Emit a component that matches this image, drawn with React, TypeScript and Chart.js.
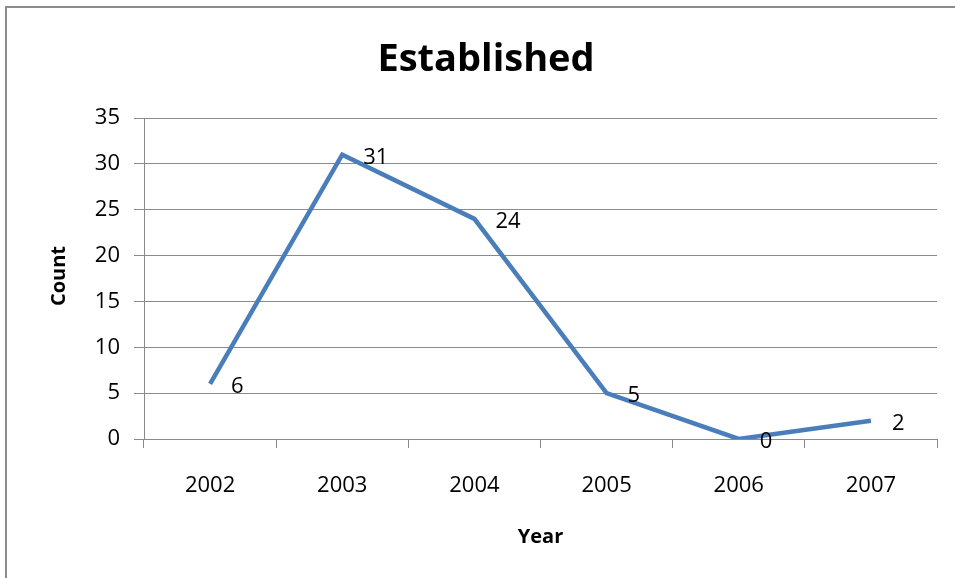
import React, { useEffect, useRef } from "react";
import { Chart, registerables } from "chart.js";

Chart.register(...registerables);

const years = ["2002", "2003", "2004", "2005", "2006", "2007"];
const counts = [6, 31, 24, 5, 0, 2];
const chartTitle = "Established";
const xTitle = "Year";
const yTitle = "Count";

const FONT = "'Open Sans', 'Noto Sans', sans-serif";
const GRID = "#8a8a8a";
const LINE = "#4a7ebb";

const textPlugin = {
  id: "textPlugin",
  afterDatasetsDraw(chart: any) {
    const ctx = chart.ctx;
    const meta = chart.getDatasetMeta(0);
    ctx.save();
    ctx.fillStyle = "#000";
    ctx.font = `22px ${FONT}`;
    ctx.textAlign = "left";
    ctx.textBaseline = "middle";
    meta.data.forEach((pt: any, i: number) => {
      ctx.fillText(String(counts[i]), pt.x + 21, pt.y + 3);
    });
    const area = chart.chartArea;
    ctx.textBaseline = "alphabetic";
    ctx.textAlign = "center";
    ctx.font = `bold 38px ${FONT}`;
    ctx.fillText(chartTitle, 486, 71);
    ctx.font = `bold 20px ${FONT}`;
    ctx.fillText(xTitle, (area.left + area.right) / 2, 543);
    ctx.translate(65, 276);
    ctx.rotate(-Math.PI / 2);
    ctx.fillText(yTitle, 0, 0);
    ctx.restore();
  },
};

export default function App() {
  const ref = useRef<HTMLCanvasElement>(null);
  useEffect(() => {
    if (!ref.current) return;
    const chart = new Chart(ref.current, {
      type: "line",
      data: {
        labels: years,
        datasets: [
          {
            data: counts,
            borderColor: LINE,
            backgroundColor: LINE,
            borderWidth: 4.5,
            pointRadius: 0,
            tension: 0,
            borderJoinStyle: "miter",
            borderCapStyle: "butt",
          },
        ],
      },
      options: {
        animation: false,
        responsive: false,
        events: [],
        layout: { padding: { left: 0, top: 118, right: 18, bottom: 0 } },
        plugins: {
          legend: { display: false },
          title: { display: false },
          tooltip: { enabled: false },
        },
        scales: {
          x: {
            type: "category",
            offset: true,
            grid: {
              offset: true,
              drawOnChartArea: false,
              drawTicks: true,
              tickLength: 9,
              color: GRID,
            },
            border: { display: true, color: GRID, width: 1 },
            ticks: {
              color: "#000",
              font: { family: FONT, size: 22 },
              padding: 25,
              maxRotation: 0,
            },
            afterFit: (s: any) => {
              s.height = 139;
            },
          },
          y: {
            min: 0,
            max: 35,
            ticks: {
              stepSize: 5,
              color: "#000",
              font: { family: FONT, size: 22 },
              padding: 14,
            },
            grid: { color: GRID, tickLength: 10, drawTicks: true },
            border: { display: true, color: GRID, width: 1 },
            afterFit: (s: any) => {
              s.width = 144;
            },
          },
        },
      },
      plugins: [textPlugin],
    });
    return () => chart.destroy();
  }, []);
  return (
    <div style={{ position: "fixed", left: 0, top: 0, width: 955, height: 578, background: "#fff", overflow: "hidden" }}>
      <div
        style={{
          position: "absolute",
          left: 5,
          top: 6,
          width: 1000,
          height: 1000,
          borderTop: "2px solid #8c8c8c",
          borderLeft: "2px solid #8c8c8c",
        }}
      />
      <canvas ref={ref} width={955} height={578} style={{ position: "absolute", left: 0, top: 0 }} />
    </div>
  );
}
